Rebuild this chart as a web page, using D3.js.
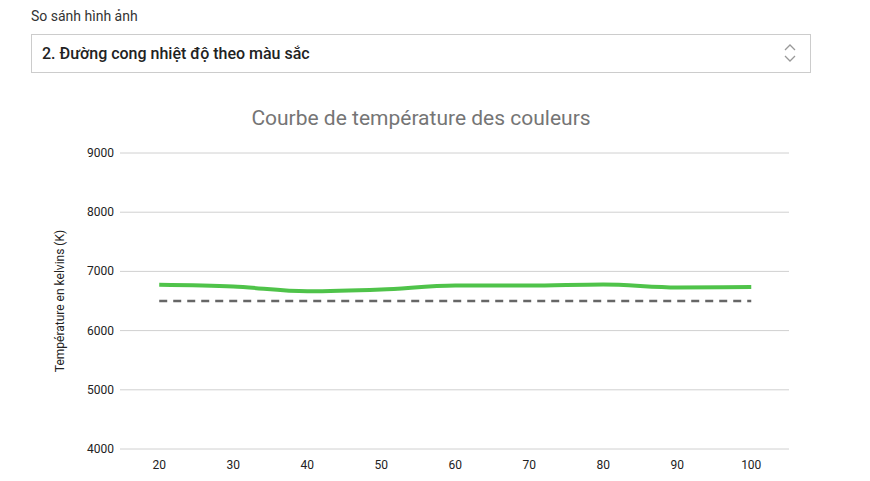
<!DOCTYPE html>
<html><head><meta charset="utf-8">
<script src="https://cdn.jsdelivr.net/npm/d3@7"></script>
<style>
body{margin:0;background:#fff;font-family:Roboto,Arial,sans-serif;}
.lbl{position:absolute;left:31px;top:8px;font-size:14px;color:#333;}
.sel{position:absolute;left:31px;top:34px;width:780px;height:39px;border:1px solid #ccc;box-sizing:border-box;}
.sel span{position:absolute;left:10px;top:9px;font-size:16px;font-weight:500;color:#222;}
svg{position:absolute;left:0;top:0;}
</style></head><body>
<div class="lbl">So sánh hình ảnh</div>
<div class="sel"><span>2. Đường cong nhiệt độ theo màu sắc</span></div>
<svg width="870" height="481"></svg>
<script>
var levels = [20, 30, 40, 50, 60, 70, 80, 90, 100];
var kelvins = [6775, 6745, 6665, 6695, 6760, 6760, 6780, 6730, 6735];
var reference = 6500;
var yTicks = [4000, 5000, 6000, 7000, 8000, 9000];

var svg = d3.select('svg');
var x = d3.scaleLinear().domain([14.7, 105.1]).range([120, 789]);
var y = d3.scaleLinear().domain([4000, 9000]).range([449, 153]);

// select chevrons
svg.append('path').attr('d', 'M785,50 L790,45 L795,50 M785,56 L790,61 L795,56')
	.attr('fill', 'none').attr('stroke', '#999').attr('stroke-width', 1.3);

svg.append('text').attr('x', 421).attr('y', 125).attr('text-anchor', 'middle')
	.attr('font-size', 21).attr('fill', '#757575').text('Courbe de température des couleurs');

svg.selectAll('.grid').data(yTicks).enter().append('line')
	.attr('x1', 120).attr('x2', 789)
	.attr('y1', function(d){ return y(d); }).attr('y2', function(d){ return y(d); })
	.attr('stroke', '#d0d0d0').attr('stroke-width', 1);

svg.selectAll('.yt').data(yTicks).enter().append('text')
	.attr('x', 114).attr('y', function(d){ return y(d) + 4; })
	.attr('text-anchor', 'end').attr('font-size', 12).attr('fill', '#222').text(function(d){ return d; });

svg.selectAll('.xt').data(levels).enter().append('text')
	.attr('x', function(d){ return x(d); }).attr('y', 469)
	.attr('text-anchor', 'middle').attr('font-size', 12).attr('fill', '#222').text(function(d){ return d; });

svg.append('text').attr('transform', 'translate(64,301) rotate(-90)')
	.attr('text-anchor', 'middle').attr('font-size', 12).attr('fill', '#222').text('Température en kelvins (K)');

svg.append('line').attr('x1', x(20)).attr('x2', x(100))
	.attr('y1', y(reference)).attr('y2', y(reference))
	.attr('stroke', '#666').attr('stroke-width', 2.5).attr('stroke-dasharray', '8,6');

var line = d3.line().x(function(d, i){ return x(levels[i]); }).y(function(d){ return y(d); })
	.curve(d3.curveMonotoneX);
svg.append('path').datum(kelvins).attr('d', line)
	.attr('fill', 'none').attr('stroke', '#4fc34a').attr('stroke-width', 4);
</script>
</body></html>
